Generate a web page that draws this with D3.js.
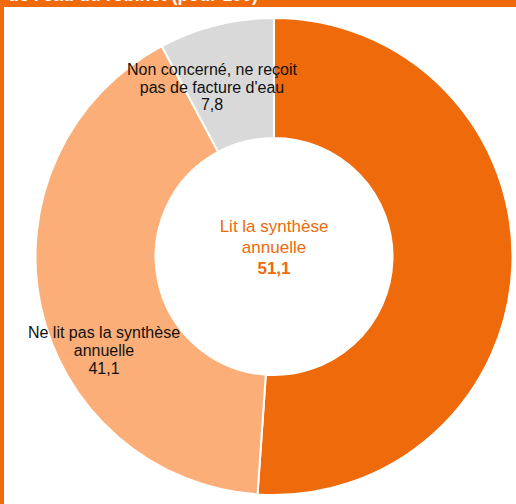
<!DOCTYPE html>
<html>
<head>
<meta charset="utf-8">
<script src="https://cdn.jsdelivr.net/npm/d3@7"></script>
<style>
  html, body { margin: 0; padding: 0; background: #fff; }
  svg { display: block; }
</style>
</head>
<body>
<svg id="chart" width="516" height="504"></svg>
<script>
// ---- data ----
const titleText = "de l'eau du robinet (pour 100)";
const categories = ["Lit la synthèse annuelle", "Ne lit pas la synthèse annuelle", "Non concerné, ne reçoit pas de facture d'eau"];
const values = [51.1, 41.1, 7.8];
const labelLines = [
  ["Lit la synthèse", "annuelle"],
  ["Ne lit pas la synthèse", "annuelle"],
  ["Non concerné, ne reçoit", "pas de facture d'eau"]
];
const colors = ["#EE6A0A", "#FBAE78", "#D9D9D9"];

// ---- layout ----
const W = 516, H = 504;
const cx = 274, cy = 256.5;
const outerR = 238.5, innerR = 118.5;
const svg = d3.select("#chart");
const fmt = v => d3.format(".1f")(v).replace(".", ",");

// frame: top band + left border
svg.append("rect").attr("x", 0).attr("y", 0).attr("width", W).attr("height", 7).attr("fill", "#EE6A0A");
svg.append("rect").attr("x", 0).attr("y", 0).attr("width", 4).attr("height", H).attr("fill", "#EE6A0A");
svg.append("text").attr("x", 8).attr("y", 0.5)
  .attr("font-family", "'Liberation Sans', Arial, sans-serif")
  .attr("font-weight", "bold").attr("font-size", 18).attr("fill", "#fff")
  .attr("textLength", 250).attr("lengthAdjust", "spacingAndGlyphs")
  .text(titleText);

const pie = d3.pie().sort(null).value(d => d)(values);
const arc = d3.arc().innerRadius(innerR).outerRadius(outerR);

const g = svg.append("g").attr("transform", `translate(${cx},${cy})`);
g.selectAll("path").data(pie).join("path")
  .attr("d", arc)
  .attr("fill", (d, i) => colors[i])
  .attr("stroke", "#fff")
  .attr("stroke-width", 2);

// label placement (layout only, relative to centre)
const labelPos = [
  { x: 0, y: -24.5, size: 17, gap: 21, color: "#EE6A0A" },
  { x: -170, y: 81.5, size: 16, gap: 18, color: "#111" },
  { x: -62, y: -181.5, size: 16, gap: 17.5, color: "#111" }
];

labelLines.forEach((lines, i) => {
  const p = labelPos[i];
  const t = g.append("text")
    .attr("text-anchor", "middle")
    .attr("font-family", "'Liberation Sans', Arial, sans-serif")
    .attr("font-size", p.size)
    .attr("fill", p.color);
  lines.concat([fmt(values[i])]).forEach((ln, k) => {
    t.append("tspan").attr("x", p.x).attr("y", p.y + k * p.gap)
      .attr("font-weight", (i === 0 && k === lines.length) ? "bold" : "normal")
      .text(ln);
  });
});
</script>
</body>
</html>
